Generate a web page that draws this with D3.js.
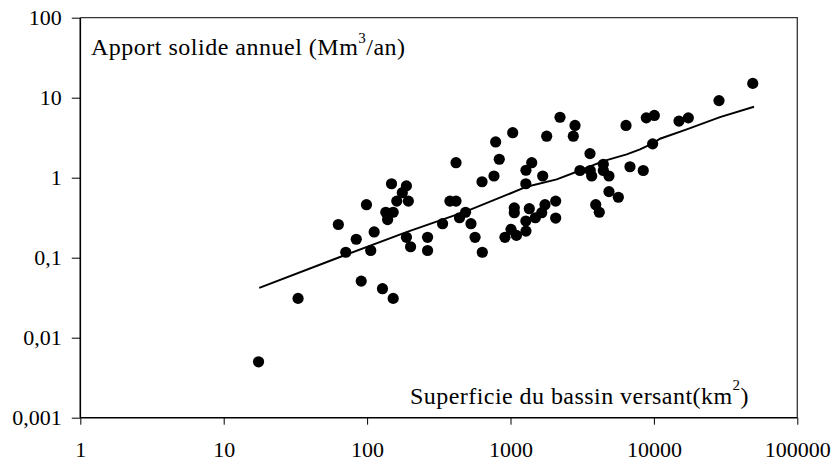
<!DOCTYPE html>
<html><head><meta charset="utf-8">
<script src="https://cdn.jsdelivr.net/npm/d3@7/dist/d3.min.js"></script>
<style>body{margin:0;background:#fff}svg{display:block}</style>
</head><body>
<script>
// Scatter data: basin area (km²) vs annual sediment yield (Mm³/an)
const areaKm2 = [17.5,33,63,71,84,91,99,106,112,128,135,139,148,152,152,161,176,188,188,194,201,264,264,336,378,417,417,441,486,530,566,636,633,767,788,835,915,1008,1036,1063,1063,1100,1280,1282,1282,1279,1352,1406,1490,1651,1677,1740,1788,2066,2066,2214,2742,2818,3050,3584,3600,3683,3930,4160,4440,4440,4860,4860,5650,6390,6810,8430,8850,9800,10070,14960,17380,28440,48900];
const sediment = [0.005,0.031,0.26,0.117,0.17,0.051,0.46,0.123,0.21,0.041,0.37,0.30,0.84,0.37,0.031,0.51,0.65,0.79,0.18,0.51,0.137,0.18,0.123,0.266,0.51,1.54,0.51,0.316,0.37,0.266,0.18,0.117,0.89,1.05,2.8,1.7,0.18,0.226,3.65,0.42,0.365,0.19,0.287,0.215,1.24,0.84,0.41,1.54,0.316,0.365,1.05,0.46,3.3,0.51,0.313,5.7,3.3,4.5,1.23,2.0,1.23,1.05,0.46,0.37,1.47,1.23,1.05,0.67,0.57,4.5,1.37,1.23,5.6,2.65,6.0,5.1,5.6,9.2,15.1];
// Trend curve
const trendArea = [17.7,64.7,188,495,1297,2100,3053,4436,6460,8000,9810,11040,16940,28900,49900];
const trendSed  = [0.042,0.102,0.209,0.382,0.772,0.953,1.23,1.61,1.955,2.26,2.68,3.07,4.02,5.72,7.72];
// Ticks
const xTicks = [1,10,100,1000,10000,100000];
const xTickLabels = ["1","10","100","1000","10000","100000"];
const yTicks = [0.001,0.01,0.1,1,10,100];
const yTickLabels = ["0,001","0,01","0,1","1","10","100"];

const W = 835, H = 469;
const m = {left:80.3, right:W-797.3, top:17.7, bottom:H-417.7};
const svg = d3.select("body").append("svg").attr("width",W).attr("height",H);
const x = d3.scaleLog().domain([1,100000]).range([m.left, W-m.right]);
const y = d3.scaleLog().domain([0.001,100]).range([H-m.bottom, m.top]);
const font = "'Liberation Serif','Times New Roman',serif";

// Box (top and right)
svg.append("path")
  .attr("d", `M${x(1)},${y(100)}H${x(100000)}V${y(0.001)}`)
  .attr("fill","none").attr("stroke","#333").attr("stroke-width",1.3);

// Axes
const xAxis = d3.axisBottom(x).tickValues(xTicks).tickSize(7).tickPadding(17)
  .tickFormat((d,i)=>xTickLabels[i]);
const gx = svg.append("g").attr("transform",`translate(0,${y(0.001)})`).call(xAxis);
const yAxis = d3.axisLeft(y).tickValues(yTicks).tickSize(8.5).tickPadding(10)
  .tickFormat((d,i)=>yTickLabels[i]);
const gy = svg.append("g").attr("transform",`translate(${x(1)},0)`).call(yAxis);
[gx,gy].forEach(g=>{
  g.select(".domain").attr("stroke","#000").attr("stroke-width",1.6);
  g.selectAll(".tick line").attr("stroke","#000").attr("stroke-width",1);
  g.selectAll(".tick text").attr("font-family",font).attr("font-size",22).attr("fill","#000");
});
gx.select(".domain").attr("d",`M${x(1)},0H${x(100000)}`);
gy.select(".domain").attr("d",`M0,${y(0.001)}V${y(100)}`);

// Trend line
svg.append("path")
  .datum(trendArea.map((a,i)=>[a,trendSed[i]]))
  .attr("fill","none").attr("stroke","#000").attr("stroke-width",2)
  .attr("d", d3.line().x(d=>x(d[0])).y(d=>y(d[1])));

// Points
svg.append("g").selectAll("circle")
  .data(areaKm2.map((a,i)=>[a,sediment[i]]))
  .join("circle")
  .attr("cx",d=>x(d[0])).attr("cy",d=>y(d[1])).attr("r",5.6).attr("fill","#000");

// Titles
const t1 = svg.append("text").attr("x",91).attr("y",55)
  .attr("font-family",font).attr("font-size",24).attr("letter-spacing",0.5).attr("fill","#000");
t1.append("tspan").text("Apport solide annuel (Mm");
t1.append("tspan").attr("font-size",15).attr("dy",-12).text("3");
t1.append("tspan").attr("dy",12).text("/an)");

const t2 = svg.append("text").attr("x",410).attr("y",404)
  .attr("font-family",font).attr("font-size",24).attr("letter-spacing",0.45).attr("fill","#000");
t2.append("tspan").text("Superficie du bassin versant(km");
t2.append("tspan").attr("font-size",15).attr("dy",-14).text("2");
t2.append("tspan").attr("dy",14).text(")");
</script>
</body></html>
